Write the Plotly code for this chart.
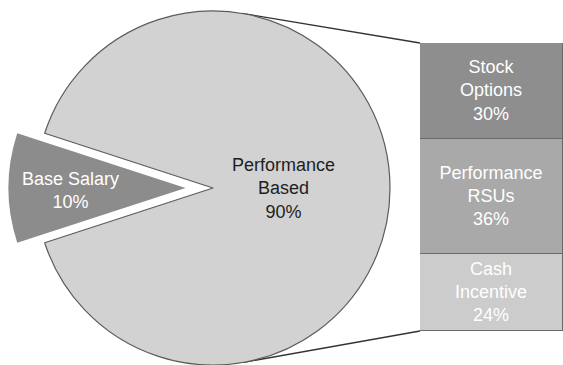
import math
import plotly.graph_objects as go

# ---------------- data ----------------
pie_labels = ["Base Salary", "Performance Based"]
pie_values = [10, 90]

bar_labels = ["Cash<br>Incentive", "Performance<br>RSUs", "Stock<br>Options"]  # bottom -> top
bar_values = [24, 36, 30]

# ---------------- styles / layout constants ----------------
W, H = 563, 365
FONT = "Liberation Sans, Arial, Helvetica, sans-serif"
pie_colors = ["#8c8c8c", "#d2d2d2"]
bar_colors = ["#cccccc", "#a9a9a9", "#8e8e8e"]
EDGE = "#5c5c5c"
FS = 18

PIE_CX, PIE_CY, PIE_R = 213, 188, 177      # pixel geometry of the pie (from top-left)
PULL = 0.155                               # explode fraction of radius for first slice
BAR_X0 = 420                                # bar left edge (px)
BAR_TOP, BAR_BOT = 43, 331                  # bar top/bottom (px)

total = sum(pie_values)
# rotate so the first slice is centred on the left (270 deg clockwise from 12 o'clock)
rotation = 270 - 360 * pie_values[0] / total / 2
mid = math.radians(270)
ex_dx = PULL * PIE_R * math.sin(mid)
ex_dy = -PULL * PIE_R * math.cos(mid)
ECX, ECY = PIE_CX + ex_dx, PIE_CY + ex_dy


def dom_x(c, r):
    return [max(0, (c - r) / W), min(1, (c + r) / W)]


def dom_y(c, r):
    return [max(0, (H - c - r) / H), min(1, (H - c + r) / H)]


fig = go.Figure()

# main pie (Performance Based), first slice hidden
fig.add_trace(go.Pie(
    labels=pie_labels, values=pie_values, sort=False, direction="clockwise",
    rotation=rotation, textinfo="none", hoverinfo="label+percent",
    marker=dict(colors=["rgba(0,0,0,0)", pie_colors[1]],
                line=dict(color=EDGE, width=[0, 1.2])),
    domain=dict(x=dom_x(PIE_CX, PIE_R), y=dom_y(PIE_CY, PIE_R)),
    showlegend=False,
))
# exploded slice (Base Salary)
fig.add_trace(go.Pie(
    labels=pie_labels, values=pie_values, sort=False, direction="clockwise",
    rotation=rotation, textinfo="none", hoverinfo="label+percent",
    marker=dict(colors=[pie_colors[0], "rgba(0,0,0,0)"],
                line=dict(color=pie_colors[0], width=[0, 0])),
    domain=dict(x=dom_x(ECX, PIE_R), y=dom_y(ECY, PIE_R)),
    showlegend=False,
))

# stacked bar
bar_total = sum(bar_values)
for lab, val, col in zip(bar_labels, bar_values, bar_colors):
    fig.add_trace(go.Bar(
        x=[""], y=[val], text=[f"{lab}<br>{val}%"], textposition="inside",
        insidetextanchor="middle", textangle=0,
        textfont=dict(color="white", size=FS, family=FONT),
        marker=dict(color=col, line=dict(color="#6a6a6a", width=1)),
        xaxis="x", yaxis="y", showlegend=False, hoverinfo="y",
        cliponaxis=False,
    ))

# connector lines: tangents from bar corners to the pie
def tangent(px, py, upper):
    dx, dy = px - PIE_CX, py - PIE_CY
    d = math.hypot(dx, dy)
    phi = math.atan2(dy, dx)
    a = math.acos(PIE_R / d)
    t = phi - a if upper else phi + a
    return PIE_CX + PIE_R * math.cos(t), PIE_CY + PIE_R * math.sin(t)

tx0, ty0 = tangent(BAR_X0, BAR_TOP, True)
bx0, by0 = tangent(BAR_X0, BAR_BOT, False)
fig.add_trace(go.Scatter(
    x=[tx0, BAR_X0, None, bx0, BAR_X0], y=[ty0, BAR_TOP, None, by0, BAR_BOT],
    mode="lines", line=dict(color="#333333", width=1.4),
    xaxis="x2", yaxis="y2", showlegend=False, hoverinfo="skip",
))

fig.update_layout(
    width=W, height=H, margin=dict(l=0, r=0, t=0, b=0),
    paper_bgcolor="white", plot_bgcolor="rgba(0,0,0,0)",
    barmode="stack", bargap=0,
    font=dict(family=FONT),
    xaxis=dict(domain=[BAR_X0 / W, 1], range=[-0.5, 0.5], visible=False, fixedrange=True),
    yaxis=dict(domain=[(H - BAR_BOT) / H, (H - BAR_TOP) / H], range=[0, bar_total],
               visible=False, fixedrange=True),
    xaxis2=dict(domain=[0, 1], range=[0, W], visible=False, anchor="y2", fixedrange=True),
    yaxis2=dict(domain=[0, 1], range=[H, 0], visible=False, anchor="x2", fixedrange=True),
    annotations=[
        dict(x=(PIE_CX + 0.40 * PIE_R) / W, y=1 - PIE_CY / H, xref="paper", yref="paper",
             xanchor="center", yanchor="middle",
             text=f"Performance<br>Based<br>{pie_values[1]}%", showarrow=False,
             font=dict(size=FS, color="#1e1e1e", family=FONT), align="center"),
        dict(x=(ECX - 0.65 * PIE_R) / W, y=1 - (ECY + 3) / H, xref="paper", yref="paper",
             xanchor="center", yanchor="middle",
             text=f"Base Salary<br>{pie_values[0]}%", showarrow=False,
             font=dict(size=FS, color="white", family=FONT), align="center"),
    ],
)

fig.write_html("out.html")
